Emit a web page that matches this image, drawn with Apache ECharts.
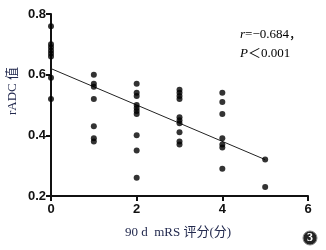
<!DOCTYPE html>
<html>
<head>
<meta charset="utf-8">
<script src="https://cdn.jsdelivr.net/npm/echarts@6/dist/echarts.min.js"></script>
<style>
  html, body { margin: 0; padding: 0; background: #fff; }
  #main { width: 326px; height: 250px; }
</style>
</head>
<body>
<div id="main"></div>
<script>
// mRS score groups and rADC values
const mrsScores = [0, 1, 2, 3, 4, 5]
const radcByScore = [
  [0.76, 0.70, 0.69, 0.68, 0.67, 0.66, 0.59, 0.52],
  [0.60, 0.57, 0.56, 0.52, 0.43, 0.39, 0.38],
  [0.57, 0.54, 0.53, 0.50, 0.49, 0.48, 0.47, 0.40, 0.35, 0.26],
  [0.55, 0.54, 0.53, 0.52, 0.46, 0.45, 0.44, 0.41, 0.38, 0.37],
  [0.54, 0.51, 0.47, 0.39, 0.37, 0.36, 0.29],
  [0.32, 0.23]
]
// fitted line end points
const fitX = [0, 5]
const fitY = [0.62, 0.32]

const xTicks = [0, 2, 4, 6]
const yTicks = [0.2, 0.4, 0.6, 0.8]

const points = []
mrsScores.forEach(function (s, i) {
  radcByScore[i].forEach(function (v) { points.push([s, v]) })
})

const myChart = echarts.init(document.getElementById('main'))

const textColor = '#232a4f'
const serif = '"Liberation Serif", "Noto Sans CJK SC", serif'

const option = {
  animation: false,
  grid: { left: 51, right: 18, top: 14, bottom: 54 },
  xAxis: {
    type: 'value',
    min: xTicks[0],
    max: xTicks[xTicks.length - 1],
    interval: 2,
    splitLine: { show: false },
    axisLine: { lineStyle: { color: '#111', width: 2 } },
    axisTick: { length: 5, lineStyle: { color: '#111', width: 2 } },
    axisLabel: {
      color: '#111', fontSize: 13, fontWeight: 'bold',
      fontFamily: '"Liberation Sans", Arial, sans-serif', margin: 7
    }
  },
  yAxis: {
    type: 'value',
    min: yTicks[0],
    max: yTicks[yTicks.length - 1],
    interval: 0.2,
    splitLine: { show: false },
    axisLine: { show: true, lineStyle: { color: '#111', width: 2 } },
    axisTick: { show: true, length: 5, lineStyle: { color: '#111', width: 2 } },
    axisLabel: {
      color: '#111', fontSize: 13, fontWeight: 'bold',
      fontFamily: '"Liberation Sans", Arial, sans-serif', margin: 5,
      formatter: function (v) { return v.toFixed(1) }
    }
  },
  series: [
    {
      type: 'line',
      data: [[fitX[0], fitY[0]], [fitX[1], fitY[1]]],
      symbol: 'none',
      lineStyle: { color: '#222', width: 1 },
      z: 1
    },
    {
      type: 'scatter',
      data: points,
      symbolSize: 6,
      itemStyle: { color: '#000' },
      z: 2
    }
  ],
  graphic: [
    {
      type: 'text', left: 6, top: 67, rotation: Math.PI / 2,
      style: { text: 'rADC 值', fill: textColor, font: '13px ' + serif }
    },
    {
      type: 'text', left: 125, top: 226,
      style: { text: '90 d  mRS 评分(分)', fill: textColor, font: '13px ' + serif }
    },
    {
      type: 'text', left: 240, top: 25,
      style: {
        rich: {
          i: { fontStyle: 'italic', fontFamily: serif, fontSize: 13, color: textColor },
          n: { fontFamily: serif, fontSize: 13, color: textColor }
        },
        text: '{i|r}{n|=−0.684，}\n{i|P}{n|＜0.001}',
        lineHeight: 19
      }
    },
    {
      type: 'circle', shape: { cx: 310, cy: 238, r: 7 },
      style: { fill: '#222', stroke: '#888', lineWidth: 1 }
    },
    {
      type: 'text', x: 310, y: 238,
      style: {
        text: '3', fill: '#fff', font: 'bold 12px "Liberation Serif", serif',
        textAlign: 'center', textVerticalAlign: 'middle'
      }
    }
  ]
}

myChart.setOption(option)
</script>
</body>
</html>
